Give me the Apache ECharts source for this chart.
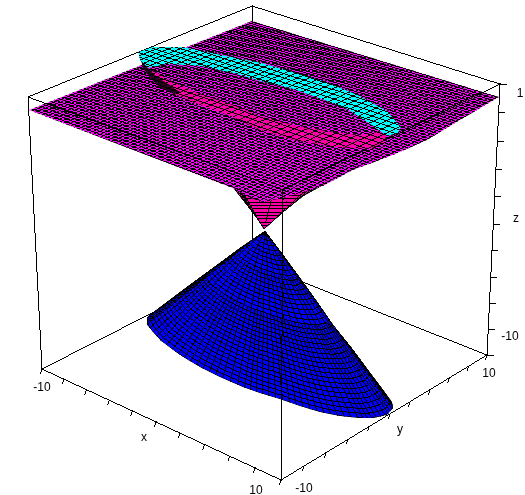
<!DOCTYPE html>
<html><head><meta charset="utf-8">
<style>html,body{margin:0;padding:0;background:#fff}#c{width:525px;height:495px}</style>
<script src="https://cdn.jsdelivr.net/npm/echarts@6/dist/echarts.min.js"></script>
</head><body><div id="c"></div>
<script>
// Tick values
const xTicks=[-10,-8,-6,-4,-2,0,2,4,6,8,10];
const yTicks=[-10,-8,-6,-4,-2,0,2,4,6,8,10];
const zTicks=[-10,-8.9,-7.8,-6.7,-5.6,-4.5,-3.4,-2.3,-1.2,-0.1,1];
// Box corners, in the hidden picture-plane axes
const cornerBottomLeft=[42,369], cornerBottomFront=[281,480], cornerBottomRight=[487,355], cornerBottomBack=[252,262];
const cornerTopLeft=[28,97], cornerTopFront=[283,190], cornerTopRight=[500,84], cornerTopBack=[252,6];
// Surface outlines
const coneOutline=[[265,231],[283,255],[300,278],[317,302],[333,325],[353,350],[370,373],[383,390],[392,402],[393,408],[387,415],[373,418],[360,418],[340,416],[320,412],[300,406],[280,399],[260,393],[243,387],[220,377],[200,367],[180,355],[160,340],[147,325],[147,317],[167,302],[187,287],[213,268],[240,248]];
const funnelOutline=[[264,229],[283,212],[303,196],[323,185],[323,175],[232,175],[232,186],[247,205],[257,218]];
const planeCorners=[[29,110],[283,205],[499,97],[252,21]];
const planeOutline=[[29,110],[235,189],[240,192],[250,198],[263,202],[283,198],[303,192],[323,186],[353,170],[393,155],[427,140],[460,120],[499,97],[252,21]];
const pinkBand=[[143,63],[153,70],[167,79],[200,94],[233,105],[260,116],[293,125],[327,131],[360,135],[388,130],[384,143],[370,149],[333,147],[293,140],[260,130],[233,117],[200,105],[163,89],[150,78]];
const rimShadow=[[140,58],[146,66],[156,76],[168,84],[180,92],[174,94],[160,88],[150,78],[143,68]];
const cyanBand=[[138,52],[153,47],[183,47],[217,54],[262,63],[300,74],[327,82],[360,96],[387,111],[401,127],[398,133],[387,136],[370,124],[347,109],[327,101],[293,89],[260,81],[233,73],[200,66],[167,64],[148,68],[140,60]];
// Axis title and end labels
const labelTexts=['-10','x','10','-10','y','10','-10','z','1'];
const labelX=[42,144,256,304,400,489,510,516,520];
const labelY=[388,438,491,489,430,374,337,219,94];

function lerp(a,b,t,w){w=w||1;const d=(1-t)+w*t;return [(a[0]*(1-t)+w*b[0]*t)/d,(a[1]*(1-t)+w*b[1]*t)/d];}
function homography(q){
  const [p0,p1,p2,p3]=q;
  const dx1=p1[0]-p2[0],dx2=p3[0]-p2[0],sx=p0[0]-p1[0]+p2[0]-p3[0];
  const dy1=p1[1]-p2[1],dy2=p3[1]-p2[1],sy=p0[1]-p1[1]+p2[1]-p3[1];
  const det=dx1*dy2-dx2*dy1;
  const g=(sx*dy2-dx2*sy)/det,h=(dx1*sy-sx*dy1)/det;
  const a=p1[0]-p0[0]+g*p1[0],b=p3[0]-p0[0]+h*p3[0],c=p0[0];
  const d=p1[1]-p0[1]+g*p1[1],e=p3[1]-p0[1]+h*p3[1],f=p0[1];
  return (u,v)=>{const k=g*u+h*v+1;return [(a*u+b*v+c)/k,(d*u+e*v+f)/k];};
}
const planeMap=homography(planeCorners);
// one-pixel, non-smoothed strokes: each line becomes horizontal or vertical pixel runs
function runs(p,q,box){
  let [x0,y0]=p,[x1,y1]=q,out='';
  const dx=x1-x0,dy=y1-y0;
  const add=(a,b,c,d)=>{box[0]=Math.min(box[0],a);box[1]=Math.min(box[1],b);box[2]=Math.max(box[2],c);box[3]=Math.max(box[3],d);};
  if(Math.abs(dx)>=Math.abs(dy)){
    if(dx<0){[x0,x1]=[x1,x0];[y0,y1]=[y1,y0];}
    const s=dx===0?0:(y1-y0)/(x1-x0);
    const a=Math.floor(x0),b=Math.floor(x1);
    let st=a,cur=Math.floor(y0+s*(a+.5-x0));
    for(let x=a+1;x<=b+1;x++){
      const r=x>b?null:Math.floor(y0+s*(x+.5-x0));
      if(r!==cur){out+='M'+st+' '+(cur+.5)+'H'+x;add(st,cur+.5,x,cur+.5);st=x;cur=r;}
    }
  }else{
    if(dy<0){[x0,x1]=[x1,x0];[y0,y1]=[y1,y0];}
    const s=(x1-x0)/(y1-y0);
    const a=Math.floor(y0),b=Math.floor(y1);
    let st=a,cur=Math.floor(x0+s*(a+.5-y0));
    for(let y=a+1;y<=b+1;y++){
      const r=y>b?null:Math.floor(x0+s*(y+.5-y0));
      if(r!==cur){out+='M'+(cur+.5)+' '+st+'V'+y;add(cur+.5,st,cur+.5,y);st=y;cur=r;}
    }
  }
  return out;
}
function pixelPath(api,lines){
  let d='';const box=[1e9,1e9,-1e9,-1e9];
  for(const l of lines){
    for(let i=0;i+1<l.length;i++){d+=runs(api.coord(l[i]),api.coord(l[i+1]),box);}
  }
  return {type:'path',silent:true,shape:{pathData:d,x:box[0],y:box[1],width:box[2]-box[0],height:box[3]-box[1],layout:'cover'},style:{stroke:'#000',fill:null,lineWidth:1}};
}
function surface(api,outline,fill,lines){
  const pts=outline.map(p=>api.coord(p));
  return {type:'group',clipPath:{type:'polygon',shape:{points:pts}},children:[
    {type:'polygon',silent:true,shape:{points:pts},style:{fill:fill,stroke:null}},
    pixelPath(api,lines)]};
}
function planeLines(n){
  const out=[],ext=0.45,m=Math.round(n*(1+2*ext));
  for(let i=0;i<=m;i++){
    const t=-ext+i/n;
    out.push([planeMap(t,-ext),planeMap(t,1+ext)]);
    out.push([planeMap(-ext,t),planeMap(1+ext,t)]);
  }
  return out;
}
function fanLines(outline,nr,na){
  const apex=outline[0],curve=outline.slice(1);
  const at=s=>{const f=s*(curve.length-1),i=Math.min(Math.floor(f),curve.length-2);return lerp(curve[i],curve[i+1],f-i);};
  const out=[];
  for(let i=0;i<=nr;i++){
    const u=i/nr,t=0.7*(1-Math.cos(Math.PI*u))/2+0.3*u,e=at(t);
    const s0=i%2?0.5:(i%4?0.25:(i%8?0.12:0));
    out.push([lerp(apex,e,s0),e]);
  }
  for(let j=1;j<=na;j++){
    const s=j/na,pts=[];
    for(let i=0;i<=40;i++){pts.push(lerp(apex,at(i/40),s));}
    out.push(pts);
  }
  return out;
}
function one(renderItem,z){return {type:'custom',coordinateSystem:'cartesian2d',data:[[0,0]],encode:{x:0,y:1},z:z,clip:false,silent:true,animation:false,renderItem:renderItem};}
function tickLines(values,lo,hi,a,b,w,dx,dy){
  return values.map(v=>{const q=lerp(a,b,(v-lo)/(hi-lo),w);return [q,[q[0]+dx,q[1]+dy]];});
}
const option={
  animation:false,backgroundColor:'#fff',
  grid:{left:0,right:0,top:0,bottom:0},
  xAxis:{type:'value',min:0,max:525,show:false},
  yAxis:{type:'value',min:0,max:495,inverse:true,show:false},
  series:[
    one((p,api)=>pixelPath(api,[[cornerBottomLeft,cornerBottomBack],[cornerBottomBack,cornerBottomRight],[cornerBottomBack,cornerTopBack],[cornerTopLeft,cornerTopBack],[cornerTopBack,cornerTopRight]]),1),
    one((p,api)=>surface(api,coneOutline,'#0000ff',fanLines(coneOutline,110,38)),2),
    one((p,api)=>surface(api,funnelOutline,'#ff00a8',fanLines(funnelOutline,40,16)),3),
    one((p,api)=>surface(api,planeOutline,'#ff00ff',planeLines(65)),4),
    one((p,api)=>surface(api,pinkBand,'#ff00a8',planeLines(36)),5),
    one((p,api)=>surface(api,rimShadow,'#300020',planeLines(45)),6),
    one((p,api)=>surface(api,cyanBand,'#00ffff',planeLines(36)),7),
    one((p,api)=>pixelPath(api,[[cornerTopLeft,cornerBottomLeft],[cornerTopRight,cornerBottomRight],[cornerTopFront,cornerBottomFront],[cornerBottomLeft,cornerBottomFront],[cornerBottomFront,cornerBottomRight],[cornerTopLeft,cornerTopFront],[cornerTopFront,cornerTopRight]]
      .concat(tickLines(xTicks,-10,10,cornerBottomLeft,cornerBottomFront,0.912,-1.5,4.5))
      .concat(tickLines(yTicks,-10,10,cornerBottomFront,cornerBottomRight,1.123,-1.5,4.5))
      .concat(tickLines(zTicks,1,-10,cornerTopRight,cornerBottomRight,1.07,6,0))),8),
    {type:'custom',coordinateSystem:'cartesian2d',data:labelTexts.map((s,i)=>[labelX[i],labelY[i]]),z:10,clip:false,silent:true,animation:false,
      encode:{x:0,y:1},
      renderItem:(p,api)=>{const c=api.coord([api.value(0),api.value(1)]);
        return {type:'text',silent:true,style:{x:c[0],y:c[1],text:labelTexts[p.dataIndex],fill:'#000',font:'12px "Liberation Sans", Arial, sans-serif',textAlign:'center',textVerticalAlign:'middle'}};}}
  ]
};
const chart=echarts.init(document.getElementById('c'),null,{renderer:'canvas'});
chart.setOption(option);
</script></body></html>
